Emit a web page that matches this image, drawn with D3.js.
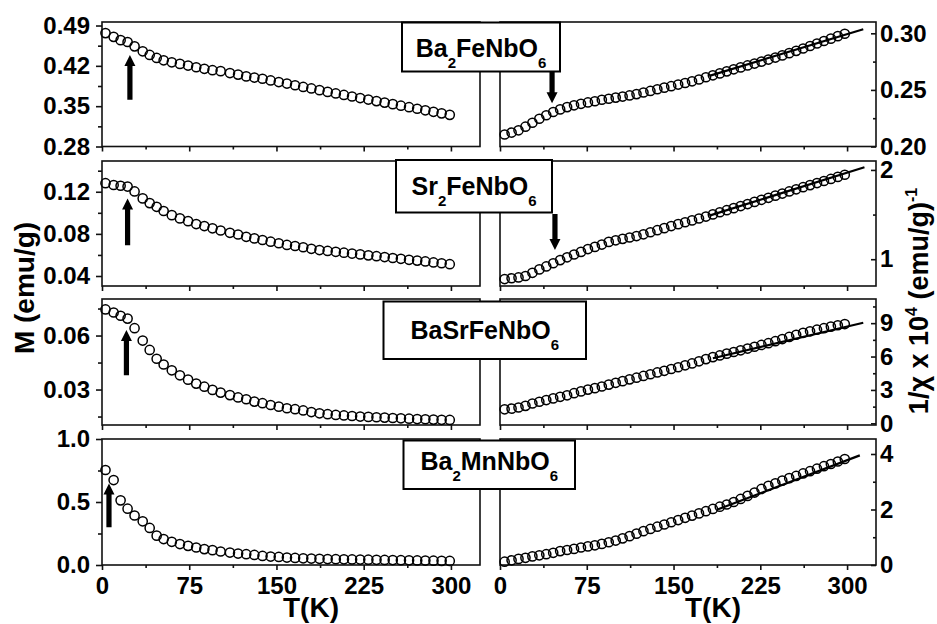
<!DOCTYPE html>
<html>
<head>
<meta charset="utf-8">
<script src="https://cdn.jsdelivr.net/npm/d3@7"></script>
<style>
  body { margin: 0; background: #fff; }
  svg { display: block; }
  text { font-family: "Liberation Sans", Arial, Helvetica, sans-serif; font-weight: bold; fill: #000; }
</style>
</head>
<body>
<svg id="chart" width="937" height="624"></svg>
<script>
// ---------- data ----------
// temperatures (K) of the magnetisation curves
const tempM = [3,10,16,22,28,35,41,47,53,60,67,74,81,88,95,102,110,117,124,131,138,145,152,159,166,173,180,187,194,201,208,215,222,229,236,243,250,257,264,271,278,285,292,299];
// temperatures (K) of the inverse susceptibility curves
const tempChi = [4,10,16,22,28,34,40,46,52,58,64,70,76,82,88,94,100,106,112,118,124,130,136,142,148,154,160,166,172,178,184,190,196,202,208,214,220,226,232,238,244,250,256,262,268,274,280,286,292,298];

const samples = ["Ba2FeNbO6", "Sr2FeNbO6", "BaSrFeNbO6", "Ba2MnNbO6"];

// M (emu/g)
const magBa2FeNbO6 = [.4768,.4703,.4646,.4614,.4538,.4452,.4389,.4337,.4296,.4261,.4234,.4205,.4176,.4149,.4125,.4108,.4075,.4048,.4017,.3997,.3976,.3947,.3919,.3892,.3863,.3834,.3808,.3778,.3748,.3721,.3695,.3668,.3641,.3615,.3588,.3562,.3535,.3508,.3482,.3455,.3428,.3402,.3375,.3349];
const magSr2FeNbO6 = [.1281,.1264,.1257,.1249,.1203,.1137,.1092,.1057,.1017,.0978,.0947,.0921,.0893,.0874,.0853,.0832,.0810,.0794,.0772,.0757,.0742,.0726,.0711,.0695,.0685,.0673,.0658,.0646,.0638,.0630,.0621,.0613,.0605,.0596,.0588,.0580,.0571,.0563,.0554,.0546,.0538,.0529,.0521,.0512];
const magBaSrFeNbO6 = [.0745,.0728,.0710,.0694,.0641,.0572,.0520,.0471,.0439,.0407,.0379,.0355,.0333,.0316,.0298,.0283,.0269,.0256,.0246,.0233,.0224,.0214,.0205,.0196,.0191,.0184,.0175,.0168,.0163,.0159,.0156,.0153,.0150,.0148,.0146,.0144,.0142,.0140,.0138,.0136,.0135,.0133,.0132,.0131];
const magBa2MnNbO6 = [.754,.674,.513,.447,.393,.347,.294,.233,.206,.184,.166,.152,.139,.126,.118,.107,.099,.091,.086,.080,.072,.067,.064,.059,.056,.053,.051,.049,.047,.046,.045,.044,.043,.042,.041,.040,.039,.038,.037,.036,.035,.034,.033,.032];

// 1/chi x 10^4 (emu/g)^-1
const invBa2FeNbO6 = [.2106,.2123,.2143,.2175,.2210,.2245,.2276,.2305,.2328,.2348,.2364,.2377,.2389,.2400,.2413,.2422,.2432,.2441,.2451,.2463,.2477,.2491,.2506,.2520,.2533,.2547,.2561,.2576,.2592,.2612,.2629,.2646,.2664,.2682,.2699,.2716,.2733,.2750,.2768,.2786,.2805,.2825,.2845,.2866,.2888,.2910,.2932,.2953,.2975,.2996];
const invSr2FeNbO6 = [.778,.787,.796,.812,.848,.886,.919,.955,.990,1.021,1.053,1.082,1.114,1.138,1.164,1.194,1.212,1.228,1.243,1.259,1.279,1.302,1.325,1.348,1.371,1.393,1.414,1.435,1.456,1.478,1.502,1.526,1.549,1.572,1.595,1.618,1.642,1.665,1.688,1.712,1.735,1.759,1.783,1.807,1.830,1.853,1.876,1.899,1.922,1.946];
const invBaSrFeNbO6 = [1.26,1.32,1.42,1.57,1.78,1.94,2.09,2.24,2.38,2.52,2.71,2.87,3.03,3.16,3.31,3.48,3.64,3.79,3.95,4.10,4.26,4.41,4.57,4.72,4.88,5.04,5.21,5.38,5.57,5.77,5.95,6.10,6.26,6.41,6.56,6.72,6.88,7.04,7.20,7.38,7.57,7.76,7.96,8.13,8.27,8.41,8.55,8.69,8.81,8.92];
const invBa2MnNbO6 = [.12,.17,.22,.26,.31,.35,.39,.44,.50,.54,.58,.63,.67,.71,.76,.82,.88,.96,1.04,1.13,1.22,1.30,1.38,1.46,1.54,1.62,1.70,1.78,1.86,1.94,2.02,2.10,2.18,2.27,2.38,2.49,2.61,2.74,2.85,2.94,3.04,3.13,3.21,3.30,3.38,3.47,3.56,3.64,3.73,3.82];

// Curie-Weiss fits: end points (T in K, 1/chi)
const fitT = [[181, 314], [181, 315], [184, 314], [188, 311]];
const fitV = [[0.2624, 0.3036], [1.488, 2.030], [5.85, 9.04], [2.00, 3.95]];

// transition markers: temperature and the value span of the arrow (tail -> tip)
const arrowsM = [[24, 0.361, 0.439], [22, 0.0692, 0.1137], [21, 0.0379, 0.0631], [6, 0.299, 0.647]];
const arrowsChi = [[45, 0.2692, 0.2383], [47.5, 1.507, 1.104], null, null];

// axes
const tempDomain = [0, 325];
const tempTickLabels = ["0", "75", "150", "225", "300"];
const tempMinor = [37.5, 112.5, 187.5, 262.5];

const magDomains = [[0.28, 0.4961], [0.0305, 0.1492], [0.0103, 0.0803], [0, 1.0]];
const magTickLabels = [["0.28", "0.35", "0.42", "0.49"], ["0.04", "0.08", "0.12"], ["0.03", "0.06"], ["0.0", "0.5", "1.0"]];
const magMinor = [[0.315, 0.385, 0.455], [0.06, 0.10, 0.14], [0.015, 0.045, 0.075], [0.25, 0.75]];

const invDomains = [[0.2, 0.31], [0.7, 2.1], [-0.15, 11.17], [0, 4.54]];
const invTickLabels = [["0.20", "0.25", "0.30"], ["1", "2"], ["0", "3", "6", "9"], ["0", "2", "4"]];
const invMinor = [[0.225, 0.275], [1.5], [1.5, 4.5, 7.5, 10.5], [1, 3]];

const magSeries = [magBa2FeNbO6, magSr2FeNbO6, magBaSrFeNbO6, magBa2MnNbO6];
const invSeries = [invBa2FeNbO6, invSr2FeNbO6, invBaSrFeNbO6, invBa2MnNbO6];

// ---------- layout ----------
const svg = d3.select("#chart");
const colX = [[102, 480], [500, 876]];
const rowY = [[22, 146.5], [161, 286], [299, 425], [439, 565]];
const labelBoxes = [
  { x0: 402, x1: 560, y0: 22.5, y1: 71.5, base: 56.5 },
  { x0: 396, x1: 552, y0: 160, y1: 212.5, base: 195 },
  { x0: 383.5, x1: 586, y0: 301.5, y1: 359, base: 338.5 },
  { x0: 403.5, x1: 575, y0: 440.5, y1: 489, base: 470 }
];

const xL = d3.scaleLinear().domain(tempDomain).range(colX[0]);
const xR = d3.scaleLinear().domain(tempDomain).range(colX[1]);

const ink = "#111";
const tickFont = 24;
const markerR = 4.6;

function styleAxis(g) {
  g.select(".domain").remove();
  g.selectAll(".tick line").attr("stroke", ink).attr("stroke-width", 1.6);
  g.selectAll(".tick text").attr("font-size", tickFont).attr("fill", "#000");
}

function arrowPath(x, yTail, yTip) {
  const dir = yTip < yTail ? -1 : 1;     // -1 pointing up
  const head = 11, hw = 5.5, sw = 2.6;
  const yNeck = yTip - dir * head;
  return `M${x - sw},${yTail} L${x - sw},${yNeck} L${x - hw},${yNeck} L${x},${yTip} L${x + hw},${yNeck} L${x + sw},${yNeck} L${x + sw},${yTail} Z`;
}

rowY.forEach(([y0, y1], i) => {
  const yM = d3.scaleLinear().domain(magDomains[i]).range([y1, y0]);
  const yC = d3.scaleLinear().domain(invDomains[i]).range([y1, y0]);
  const last = i === rowY.length - 1;

  // panel frames
  colX.forEach(c => {
    svg.append("rect")
      .attr("x", c[0]).attr("y", y0)
      .attr("width", c[1] - c[0]).attr("height", y1 - y0)
      .attr("fill", "#fff").attr("stroke", ink).attr("stroke-width", 1.6);
  });

  // magnetisation points
  svg.append("g").selectAll("circle")
    .data(magSeries[i].map((v, k) => [tempM[k], v]))
    .join("circle")
    .attr("cx", d => xL(d[0])).attr("cy", d => yM(d[1]))
    .attr("r", markerR).attr("fill", "none").attr("stroke", "#000").attr("stroke-width", 1.5);

  // inverse susceptibility points
  svg.append("g").selectAll("circle")
    .data(invSeries[i].map((v, k) => [tempChi[k], v]))
    .join("circle")
    .attr("cx", d => xR(d[0])).attr("cy", d => yC(d[1]))
    .attr("r", markerR).attr("fill", "none").attr("stroke", "#000").attr("stroke-width", 1.5);

  // linear fit
  svg.append("line")
    .attr("x1", xR(fitT[i][0])).attr("y1", yC(fitV[i][0]))
    .attr("x2", xR(fitT[i][1])).attr("y2", yC(fitV[i][1]))
    .attr("stroke", "#000").attr("stroke-width", 2.2);

  // transition arrows
  const am = arrowsM[i];
  svg.append("path").attr("d", arrowPath(xL(am[0]), yM(am[1]), yM(am[2]))).attr("fill", "#000");
  const ac = arrowsChi[i];
  if (ac) svg.append("path").attr("d", arrowPath(xR(ac[0]), yC(ac[1]), yC(ac[2]))).attr("fill", "#000");

  // left axis (M)
  svg.append("g").attr("transform", `translate(${colX[0][0]},0)`)
    .call(d3.axisLeft(yM).tickValues(magTickLabels[i].map(Number))
      .tickFormat((d, k) => magTickLabels[i][k]).tickSize(6).tickPadding(6))
    .call(styleAxis);
  svg.append("g").attr("transform", `translate(${colX[0][0]},0)`)
    .call(d3.axisLeft(yM).tickValues(magMinor[i]).tickFormat("").tickSize(4))
    .call(styleAxis);

  // right axis (1/chi), ticks pointing inward
  svg.append("g").attr("transform", `translate(${colX[1][1]},0)`)
    .call(d3.axisRight(yC).tickValues(invTickLabels[i].map(Number))
      .tickFormat((d, k) => invTickLabels[i][k]).tickSizeInner(-5).tickSizeOuter(0).tickPadding(4))
    .call(styleAxis);
  svg.append("g").attr("transform", `translate(${colX[1][1]},0)`)
    .call(d3.axisRight(yC).tickValues(invMinor[i]).tickFormat("").tickSizeInner(-3).tickSizeOuter(0))
    .call(styleAxis);

  // bottom axes (temperature)
  [xL, xR].forEach(x => {
    svg.append("g").attr("transform", `translate(0,${y1})`)
      .call(d3.axisBottom(x).tickValues(tempTickLabels.map(Number))
        .tickFormat((d, k) => last ? tempTickLabels[k] : "").tickSize(5).tickPadding(7))
      .call(styleAxis);
    svg.append("g").attr("transform", `translate(0,${y1})`)
      .call(d3.axisBottom(x).tickValues(tempMinor).tickFormat("").tickSize(3))
      .call(styleAxis);
  });

  // sample label
  const b = labelBoxes[i];
  svg.append("rect")
    .attr("x", b.x0).attr("y", b.y0).attr("width", b.x1 - b.x0).attr("height", b.y1 - b.y0)
    .attr("fill", "#fff").attr("stroke", "#000").attr("stroke-width", 2);
  const t = svg.append("text")
    .attr("x", (b.x0 + b.x1) / 2).attr("y", b.base)
    .attr("text-anchor", "middle").attr("font-size", 25);
  // digits in the formula are subscripts
  const parts = samples[i].match(/[A-Za-z]+|\d+/g);
  let low = false;
  parts.forEach(p => {
    const isNum = /\d/.test(p);
    const s = t.append("tspan").text(p);
    if (isNum) { s.attr("font-size", 15).attr("dy", low ? 0 : 11); low = true; }
    else { s.attr("dy", low ? -11 : 0); low = false; }
  });
});

// axis titles
svg.append("text")
  .attr("transform", "translate(34,288) rotate(-90)")
  .attr("text-anchor", "middle").attr("font-size", 28)
  .text("M (emu/g)");

const rt = svg.append("text")
  .attr("transform", "translate(928,301) rotate(-90)")
  .attr("text-anchor", "middle").attr("font-size", 27);
rt.append("tspan").text("1/χ x 10");
rt.append("tspan").attr("font-size", 16).attr("dy", -11).text("4");
rt.append("tspan").attr("dy", 11).text(" (emu/g)");
rt.append("tspan").attr("font-size", 16).attr("dy", -11).text("-1");

svg.append("text").attr("x", 311).attr("y", 617).attr("text-anchor", "middle")
  .attr("font-size", 28).text("T(K)");
svg.append("text").attr("x", 713).attr("y", 617).attr("text-anchor", "middle")
  .attr("font-size", 28).text("T(K)");
</script>
</body>
</html>
